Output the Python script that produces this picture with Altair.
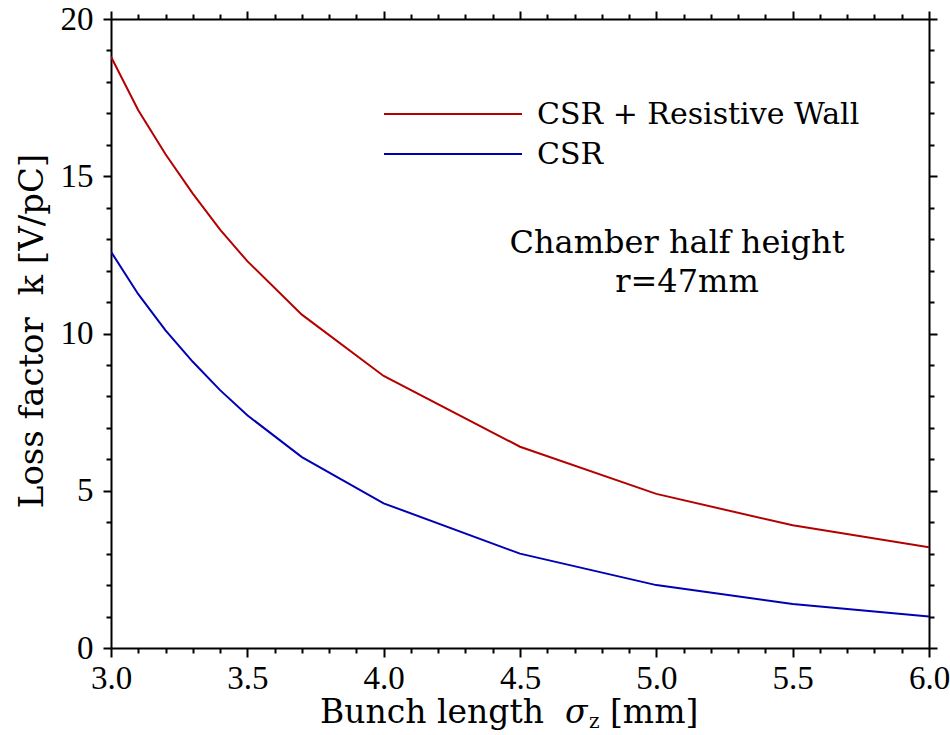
import altair as alt
import pandas as pd

# ---- data ----
sigma_z = [3.0, 3.1, 3.2, 3.3, 3.4, 3.5, 3.7, 4.0, 4.5, 5.0, 5.5, 6.0]
csr_rw = [18.8, 17.1, 15.7, 14.45, 13.3, 12.3, 10.6, 8.65, 6.4, 4.9, 3.9, 3.2]
csr = [12.6, 11.25, 10.1, 9.1, 8.2, 7.4, 6.07, 4.6, 3.0, 2.0, 1.4, 1.0]
series_names = ["CSR + Resistive Wall", "CSR"]
series_colors = ["#b40000", "#0000b4"]

x_ticks = [round(3.0 + 0.1 * i, 1) for i in range(31)]
y_ticks = list(range(0, 21))

rows = []
for name, vals in zip(series_names, [csr_rw, csr]):
    for xv, yv in zip(sigma_z, vals):
        rows.append({"sigma": xv, "k": yv, "series": name})
df = pd.DataFrame(rows)

W, H = 818, 629
LABEL_FONT = "Liberation Serif"
TEXT_FONT = "DejaVu Serif"
NB = "\u00a0"

x_major = "abs(datum.value*2 - round(datum.value*2)) < 0.001"
y_major = "abs(datum.value/5 - round(datum.value/5)) < 0.001"

common_axis = dict(
    domainColor="black", domainWidth=2, tickColor="black", tickWidth=2,
    grid=False, title=None,
)

x_bottom = alt.Axis(
    orient="bottom", values=x_ticks,
    tickSize={"condition": {"test": x_major, "value": 9}, "value": 5},
    labelExpr=f"{x_major} ? format(datum.value, '.1f') : ''",
    labelFont=LABEL_FONT, labelFontSize=33, labelColor="black",
    labelPadding=5, labelOverlap=False, labelFlush=False,
    **common_axis,
)
y_left = alt.Axis(
    orient="left", values=y_ticks,
    tickSize={"condition": {"test": y_major, "value": 8}, "value": 5},
    labelExpr=f"{y_major} ? format(datum.value, 'd') : ''",
    labelFont=LABEL_FONT, labelFontSize=33, labelColor="black",
    labelPadding=10, labelOverlap=False, labelFlush=False,
    **common_axis,
)
x_top = alt.Axis(
    orient="top", values=x_ticks, labels=False,
    tickSize={"condition": {"test": x_major, "value": 8}, "value": 5},
    **common_axis,
)
y_right = alt.Axis(
    orient="right", values=y_ticks, labels=False,
    tickSize={"condition": {"test": y_major, "value": 8}, "value": 5},
    **common_axis,
)

xs = alt.Scale(domain=[3.0, 6.0], nice=False, zero=False)
ys = alt.Scale(domain=[0, 20], nice=False, zero=False)

lines = alt.Chart(df).mark_line(strokeWidth=2, clip=True).encode(
    x=alt.X("sigma:Q", scale=xs, axis=x_bottom),
    y=alt.Y("k:Q", scale=ys, axis=y_left),
    color=alt.Color("series:N", scale=alt.Scale(domain=series_names, range=series_colors), legend=None),
)

frame = alt.Chart(df).mark_line(opacity=0).encode(
    x=alt.X("sigma:Q", scale=xs, axis=x_top),
    y=alt.Y("k:Q", scale=ys, axis=y_right),
    detail="series:N",
)

one = alt.Data(values=[{}])

def txt(text, x, y, size, align="left", baseline="alphabetic", angle=0, font=TEXT_FONT, style="normal"):
    return alt.Chart(one).mark_text(
        text=text, font=font, fontSize=size, align=align, baseline=baseline,
        angle=angle, color="black", fontStyle=style,
    ).encode(x=alt.value(x), y=alt.value(y))

def seg(x1, x2, y, color):
    return alt.Chart(one).mark_rule(color=color, strokeWidth=2).encode(
        x=alt.value(x1), x2=alt.value(x2), y=alt.value(y)
    )

legend_layers = []
for i, (name, col) in enumerate(zip(series_names, series_colors)):
    yy = 95 + 40 * i
    legend_layers.append(seg(273, 411, yy, col))
    legend_layers.append(txt(name, 426, yy + 1, 30, baseline="middle"))

annot = [
    txt("Chamber half height", 566, 234, 32, align="center"),
    txt("r=47mm", 576, 273, 32, align="center"),
    txt(f"Loss factor{NB}{NB}k [V/pC]", -78, 312, 34, align="center", baseline="middle", angle=270),
    txt("Bunch length", 209, 704, 33),
    txt("σ", 454, 704, 33, style="italic"),
    txt("z", 478, 709, 20),
    txt("[mm]", 499, 704, 33),
]

chart = alt.layer(lines, frame, *legend_layers, *annot).resolve_axis(
    x="independent", y="independent"
).properties(
    width=W, height=H,
    autosize=alt.AutoSizeParams(type="none"),
    padding={"left": 111, "top": 19, "right": 21, "bottom": 87},
    background="white",
).configure_view(stroke=None)

chart.save("out.html", embed_options={"renderer": "svg", "actions": False})
